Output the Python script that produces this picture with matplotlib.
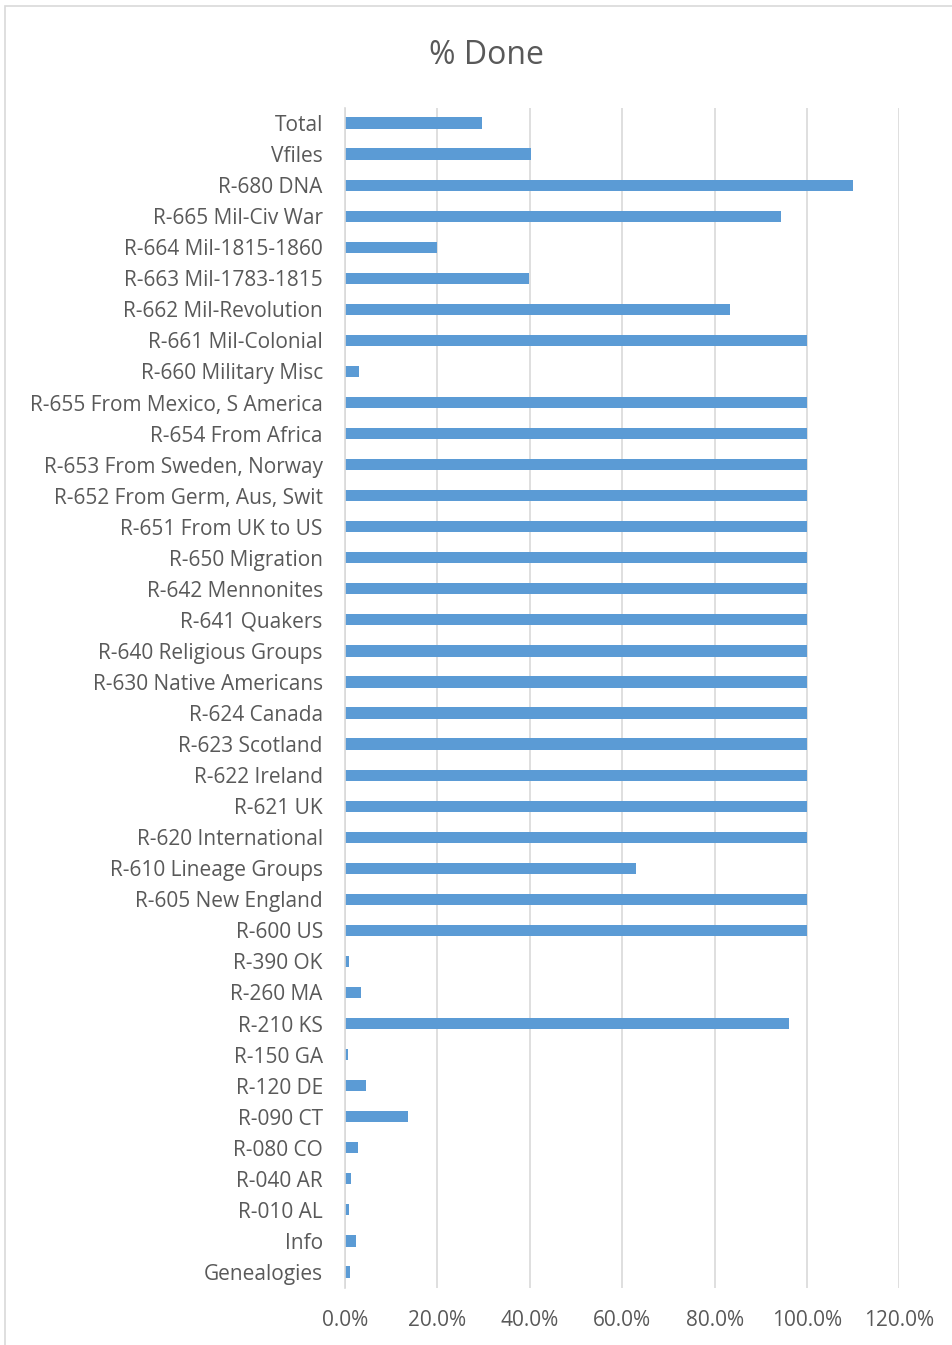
import matplotlib
matplotlib.use("Agg")
import matplotlib.pyplot as plt
from matplotlib.ticker import FuncFormatter
from matplotlib.patches import Rectangle

# categories top to bottom, as in the chart
categories = [
    "Total", "Vfiles", "R-680 DNA", "R-665 Mil-Civ War", "R-664 Mil-1815-1860",
    "R-663 Mil-1783-1815", "R-662 Mil-Revolution", "R-661 Mil-Colonial",
    "R-660 Military Misc", "R-655 From Mexico, S America", "R-654 From Africa",
    "R-653 From Sweden, Norway", "R-652 From Germ, Aus, Swit", "R-651 From UK to US",
    "R-650 Migration", "R-642 Mennonites", "R-641 Quakers", "R-640 Religious Groups",
    "R-630 Native Americans", "R-624 Canada", "R-623 Scotland", "R-622 Ireland",
    "R-621 UK", "R-620 International", "R-610 Lineage Groups", "R-605 New England",
    "R-600 US", "R-390 OK", "R-260 MA", "R-210 KS", "R-150 GA", "R-120 DE",
    "R-090 CT", "R-080 CO", "R-040 AR", "R-010 AL", "Info", "Genealogies",
]
pct_done = [
    0.297, 0.403, 1.10, 0.944, 0.199, 0.398, 0.833, 1.0,
    0.03, 1.0, 1.0, 1.0, 1.0, 1.0, 1.0, 1.0, 1.0, 1.0,
    1.0, 1.0, 1.0, 1.0, 1.0, 1.0, 0.63, 1.0,
    1.0, 0.0095, 0.034, 0.961, 0.007, 0.045,
    0.136, 0.029, 0.012, 0.008, 0.024, 0.011,
]
x_ticks = [0, 0.2, 0.4, 0.6, 0.8, 1.0, 1.2]

text_col = "#595959"
plt.rcParams['font.family'] = ['Open Sans', 'DejaVu Sans']

fig = plt.figure(figsize=(9.52, 13.45), dpi=100)
# light chart border like the Excel chart area
fig.patches.append(Rectangle((5 / 952, -0.01), 1.0, 1 - 6 / 1345 + 0.01, transform=fig.transFigure,
                             fill=False, edgecolor="#D9D9D9", linewidth=1.2))

ax = fig.add_axes([345 / 952, 1 - 1287.5 / 1345, (899.4 - 345) / 952, (1287.5 - 107.5) / 1345])
y = list(range(len(categories)))
ax.barh(y, pct_done, height=0.36, color="#5B9BD5", zorder=3)
ax.set_ylim(len(categories) - 0.5, -0.5)
ax.set_xlim(0, 1.2)
ax.set_xticks(x_ticks)
ax.xaxis.set_major_formatter(FuncFormatter(lambda v, p: f"{v * 100:.1f}%"))
ax.set_yticks(y)
ax.set_yticklabels(categories)
ax.grid(axis="x", color="#D9D9D9", linewidth=1.2, zorder=0)
for s in ["top", "right", "bottom"]:
    ax.spines[s].set_visible(False)
ax.spines["left"].set_color("#D9D9D9")
ax.spines["left"].set_linewidth(1.2)
ax.spines["left"].set_zorder(4)
ax.tick_params(axis="both", length=0, colors=text_col, labelsize=15)
ax.tick_params(axis="y", pad=16)
ax.tick_params(axis="x", pad=16)

fig.text(486 / 952, 1 - 55 / 1345, "% Done", ha="center", va="center", fontsize=23, color=text_col)

fig.savefig("out.png", dpi=100)
